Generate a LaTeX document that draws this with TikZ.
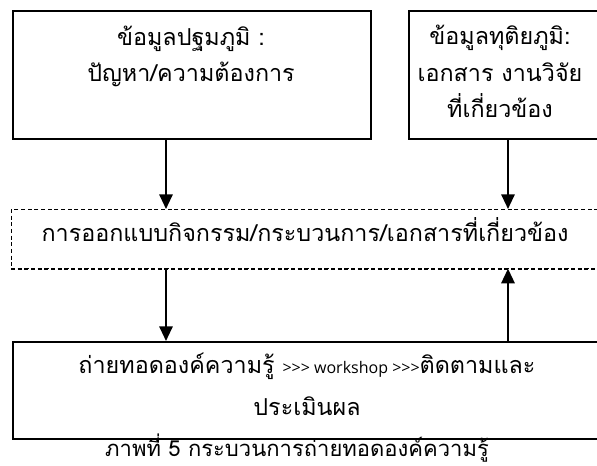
\documentclass[tikz,border=0pt]{standalone}
\usepackage{fontspec}
\setmainfont[Script=Thai]{Loma}
\newfontfamily\latinfont{Open Sans}
\usetikzlibrary{arrows.meta}
\tikzset{
  boxnode/.style={draw, line width=1.5pt, inner sep=0pt, anchor=north west},
  txtnode/.style={align=center, inner sep=0pt, font=\fontsize{17.5}{27.5}\selectfont},
  flowarr/.style={line width=1.5pt, -{Triangle[width=10pt,length=11pt]}}
}
\begin{document}
\begin{tikzpicture}[x=0.75pt, y=-0.75pt]
  \useasboundingbox (0,0) rectangle (597,466);

  \node[boxnode, minimum width=268.5pt, minimum height=96pt] (prim) at (12,10) {};
  \node[boxnode, minimum width=147.75pt, minimum height=96pt] (scnd) at (408,10) {};
  \node[boxnode, line width=0.5pt, densely dashed, minimum width=445.5pt, minimum height=44.25pt] (dsgn) at (11,209) {};
  \draw[line width=1.5pt, densely dashed] (dsgn.south west) -- (dsgn.south east);
  \node[boxnode, minimum width=444.75pt, minimum height=72.75pt] (trns) at (12,341) {};

  % base anchor sits on the last line
  \node[txtnode, anchor=base] (primtxt) at (191,82) {ข้อมูลปฐมภูมิ :\\ปัญหา/ความต้องการ};
  \node[txtnode, anchor=base] (scndtxt) at (500,118) {ข้อมูลทุติยภูมิ:\\เอกสาร งานวิจัย\\ที่เกี่ยวข้อง};
  \node[txtnode, anchor=base] (dsgntxt) at (305,242) {การออกแบบกิจกรรม/กระบวนการ/เอกสารที่เกี่ยวข้อง};
  \node[txtnode, anchor=base, font=\fontsize{17.5}{31.5}\selectfont] (trnstxt) at (307,416)
    {ถ่ายทอดองค์ความรู้ {\latinfont\fontsize{12}{12}\selectfont >>> workshop >>>}ติดตามและ\\ประเมินผล};
  \node[txtnode, anchor=base, font=\fontsize{16.5}{20}\selectfont] (capt) at (297,457) {ภาพที่ 5 กระบวนการถ่ายทอดองค์ความรู้};

  \coordinate (lft) at (166,0);
  \coordinate (rgt) at (508,0);
  \draw[flowarr] (prim.south -| lft) -- (dsgn.north -| lft);
  \draw[flowarr] (scnd.south -| rgt) -- (dsgn.north -| rgt);
  \draw[flowarr] (dsgn.south -| lft) -- (trns.north -| lft);
  \draw[flowarr] (trns.north -| rgt) -- (dsgn.south -| rgt);
\end{tikzpicture}
\end{document}
